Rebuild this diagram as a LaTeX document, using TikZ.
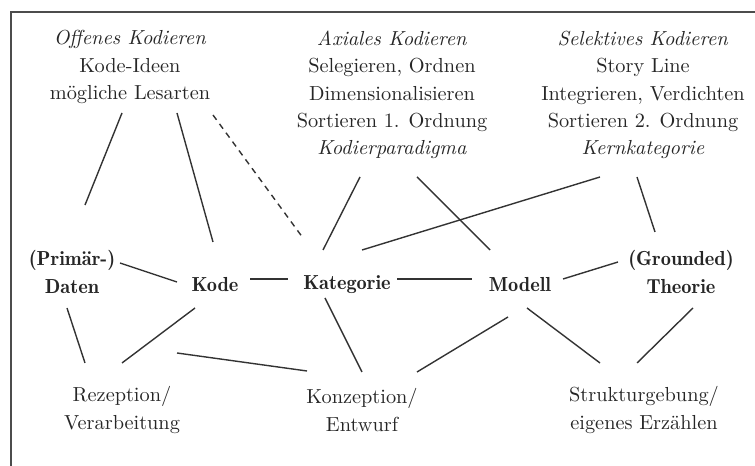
\documentclass[tikz,border=0pt]{standalone}
\usepackage{tikz}

\begin{document}
\begin{tikzpicture}[x=0.5bp,y=-0.5bp,
    every node/.style={font=\fontsize{10.2}{13.75}\selectfont, text=black!85, align=center, inner sep=0pt},
    term/.style={font=\fontsize{10.2}{13.75}\selectfont\fontseries{b}\selectfont},
    link/.style={draw=black!80, line width=0.7bp},
    weak/.style={link, dash pattern=on 3bp off 2.5bp},
    frame/.style={draw=black!70, line width=1bp}]
    \useasboundingbox (0,0) rectangle (755,466);

    % Frame (only top and left edge visible)
    \draw[frame] (755,12) -- (11,12) -- (11,466);

    % Coding steps (top row)
    \node (offen) at (130,67) {\textit{Offenes Kodieren}\\Kode-Ideen\\mögliche Lesarten};
    \node (axial) at (392,95) {\textit{Axiales Kodieren}\\Selegieren, Ordnen\\Dimensionalisieren\\Sortieren 1. Ordnung\\\textit{Kodierparadigma}};
    \node (selekt) at (643,95) {\textit{Selektives Kodieren}\\Story Line\\Integrieren, Verdichten\\Sortieren 2. Ordnung\\\textit{Kernkategorie}};

    % Main chain (middle row)
    \node[term] (daten) at (72,272) {(Primär-)\\Daten};
    \node[term] (kode) at (215,285) {Kode};
    \node[term] (kat) at (347,285) {Kategorie};
    \node[term] (modell) at (520,285) {Modell};
    \node[term] (theorie) at (681,272) {(Grounded)\\Theorie};

    % Activities (bottom row)
    \node (rezep) at (122,410) {Rezeption/\\Verarbeitung};
    \node (konz) at (362,410) {Konzeption/\\Entwurf};
    \node (struktur) at (644,410) {Strukturgebung/\\eigenes Erzählen};

    % Links from the coding steps
    \draw[link] ([shift={(-8,46)}]offen.center) -- ([shift={(13,-67)}]daten.center);
    \draw[link] ([shift={(47,46)}]offen.center) -- ([shift={(-2,-43)}]kode.center);
    \draw[weak] ([shift={(83,48)}]offen.center) -- ([shift={(-44,-47)}]kat.center);
    \draw[link] ([shift={(-32,82)}]axial.center) -- ([shift={(-24,-35)}]kat.center);
    \draw[link] ([shift={(25,82)}]axial.center) -- ([shift={(-30,-35)}]modell.center);
    \draw[link] ([shift={(-43,82)}]selekt.center) -- ([shift={(15,-35)}]kat.center);
    \draw[link] ([shift={(-6,82)}]selekt.center) -- ([shift={(-26,-40)}]theorie.center);

    % Links along the chain
    \draw[link] ([shift={(48,-9)}]daten.center) -- ([shift={(-38,-3)}]kode.center);
    \draw[link] ([shift={(35,-6)}]kode.center) -- ([shift={(-59,-6)}]kat.center);
    \draw[link] ([shift={(50,-6)}]kat.center) -- ([shift={(-48,-6)}]modell.center);
    \draw[link] ([shift={(43,-6)}]modell.center) -- ([shift={(-63,-10)}]theorie.center);

    % Links to the activities
    \draw[link] ([shift={(-5,36)}]daten.center) -- ([shift={(-37,-47)}]rezep.center);
    \draw[link] ([shift={(-20,23)}]kode.center) -- ([shift={(0,-47)}]rezep.center);
    \draw[link] ([shift={(55,-57)}]rezep.center) -- ([shift={(-55,-39)}]konz.center);
    \draw[link] ([shift={(-22,13)}]kat.center) -- ([shift={(0,-38)}]konz.center);
    \draw[link] ([shift={(-12,32)}]modell.center) -- ([shift={(55,-38)}]konz.center);
    \draw[link] ([shift={(7,23)}]modell.center) -- ([shift={(-44,-47)}]struktur.center);
    \draw[link] ([shift={(12,36)}]theorie.center) -- ([shift={(-7,-47)}]struktur.center);
\end{tikzpicture}
\end{document}
